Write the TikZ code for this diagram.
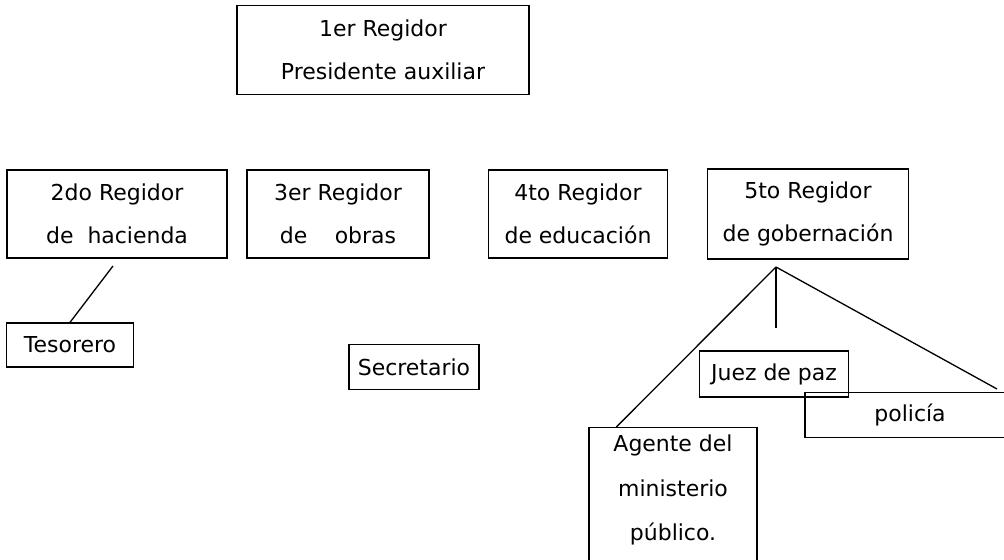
\documentclass[tikz,border=0pt]{standalone}
\usepackage{fontspec}
\setmainfont{DejaVu Sans}
\begin{document}
\begin{tikzpicture}[x=0.02cm,y=-0.02cm,
    cargo/.style={draw,line width=0.75pt,align=center,inner sep=0pt,
      font=\fontsize{12.5}{24.5}\selectfont},
    texto/.style={align=center,inner sep=0pt,font=\fontsize{12.5}{25.5}\selectfont},
    enlace/.style={line width=0.75pt}]
  \useasboundingbox (0,0) rectangle (1004,560);
  \node[cargo,minimum width=5.84cm,minimum height=1.78cm] (pres) at (383,50) {1er Regidor\\Presidente auxiliar};
  \node[cargo,minimum width=4.4cm,minimum height=1.76cm] (hacienda) at (117,214) {2do Regidor\\de\ \ hacienda};
  \node[cargo,minimum width=3.64cm,minimum height=1.76cm] (obras) at (338,214) {3er Regidor\\de\hspace{0.55cm}obras};
  \node[cargo,minimum width=3.58cm,minimum height=1.76cm] (educacion) at (578,214) {4to Regidor\\de educación};
  \node[cargo,minimum width=4.02cm,minimum height=1.8cm] (gobernacion) at (808,214) {5to Regidor\\de gobernación};
  \node[cargo,minimum width=2.54cm,minimum height=0.88cm] (tesorero) at (70,345) {Tesorero};
  \node[cargo,minimum width=2.6cm,minimum height=0.9cm] (secretario) at (414,367) {Secretario};
  \node[cargo,minimum width=2.98cm,minimum height=0.92cm] (juez) at (774,374) {Juez de paz};
  \node[cargo,minimum width=4.2cm,minimum height=0.9cm] (policia) at (910,415) {policía};
  \node[cargo,minimum width=3.36cm,minimum height=3.1cm,anchor=north] (agente) at (673,427) {};
  \node[texto] (agentetxt) at (673,490) {Agente del\\ministerio\\público.};
  \coordinate (hac) at (113,266);
  \coordinate (gob) at (776,267);
  \coordinate (juezfin) at (776,328);
  \coordinate (polfin) at (997,389);
  \draw[enlace] (hac) -- (tesorero.north);
  \draw[enlace] (gob) -- ([xshift=0.56cm]agente.north west);
  \draw[enlace] (gob) -- (juezfin);
  \draw[enlace] (gob) -- (polfin);
\end{tikzpicture}
\end{document}
